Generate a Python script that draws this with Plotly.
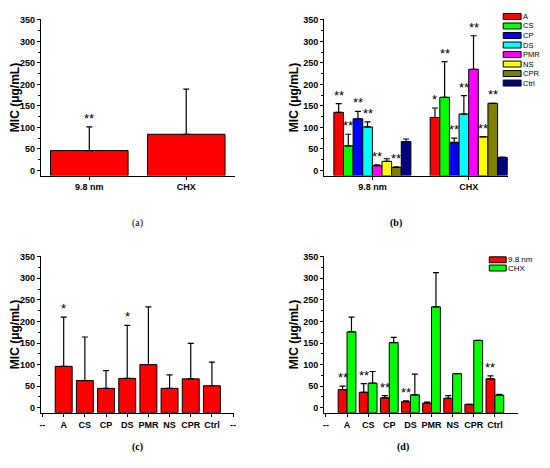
import plotly.graph_objects as go

# page has an 8px body margin all round and content past it gets cut,
# so the figure is drawn 8px in from the corner and kept inside the margin
PAGE_W, PAGE_H, OFF = 550, 468, 8
W, H = PAGE_W - 2 * OFF, PAGE_H - 2 * OFF

# (a) MIC per treatment, all strains pooled
groups = ["9.8 nm", "CHX"]
mic_a = [46, 84]
sd_a = [55, 105]
sig_a = ["**", ""]

# (b) MIC per strain inside each treatment group
strains = ["A", "CS", "CP", "DS", "PMR", "NS", "CPR", "Ctrl"]
mic_b_np = [135, 57, 120, 101, 11, 21, 7, 67]
sd_b_np = [20, 27, 17, 12, 2, 6, 1, 6]
mic_b_chx = [123, 170, 65, 131, 235, 78, 156, 30]
sd_b_chx = [22, 83, 10, 43, 78, 0, 0, 1]
sig_b_np = ["**", "**", "**", "**", "**", "", "**", ""]
sig_b_chx = ["*", "**", "**", "**", "**", "**", "**", ""]

# (c) MIC per strain, treatments pooled
mic_c = [96, 63, 45, 68, 100, 45, 67, 51]
sd_c = [114, 101, 41, 123, 134, 31, 82, 55]
sig_c = ["*", "", "", "*", "", "", "", ""]

# (d) MIC per strain, 9.8 nm vs CHX
mic_d_np = [42, 36, 23, 14, 11, 22, 8, 67]
sd_d_np = [8, 20, 5, 2, 2, 6, 0, 7]
mic_d_chx = [176, 57, 151, 30, 234, 79, 156, 29]
sd_d_chx = [34, 27, 12, 48, 79, 0, 0, 2]
sig_d_np = ["**", "**", "**", "**", "", "", "", "**"]

strain_colors = ["#FF0000", "#00FF00", "#0000FF", "#00FFFF",
                 "#FF00FF", "#FFFF00", "#808000", "#000080"]
pair_colors = ["#FF0000", "#00FF00"]

FONT = "Liberation Sans"
YMIN_TOP, YMIN_BOT = -12, -11.5


def px_x(p):
    return (p - OFF) / W


def px_y(p):
    return 1 - (p - OFF) / H


fig = go.Figure()
annotations = []
shapes = []


def add_bars(xs, vals, sds, color, width, offset, xa, ya, ymin, sig=None):
    fig.add_trace(go.Bar(
        x=xs, y=[v - ymin for v in vals], base=ymin,
        width=width, offset=offset,
        marker=dict(color=color, line=dict(color="black", width=1)),
        error_y=dict(type="data", symmetric=False, array=sds,
                     arrayminus=[0] * len(sds), color="black",
                     thickness=1.2, width=3),
        xaxis=xa, yaxis=ya, showlegend=False,
    ))
    if sig:
        for x, v, s, t in zip(xs, vals, sds, sig):
            if t:
                annotations.append(dict(
                    x=x + offset + width / 2, y=v + s, text=t,
                    xref=xa, yref=ya, showarrow=False, yanchor="bottom",
                    yshift=-1, font=dict(family=FONT, size=13, color="black")))


# panel a
add_bars([0, 1], mic_a, sd_a, "#FF0000", 0.8, -0.4, "x", "y", YMIN_TOP, sig_a)

# panel b
for i, s in enumerate(strains):
    add_bars([0, 1], [mic_b_np[i], mic_b_chx[i]], [sd_b_np[i], sd_b_chx[i]],
             strain_colors[i], 0.1, -0.4 + 0.1 * i, "x2", "y2", YMIN_TOP,
             [sig_b_np[i], sig_b_chx[i]])

# panel c
pos = list(range(1, len(strains) + 1))
add_bars(pos, mic_c, sd_c, "#FF0000", 0.8, -0.4, "x3", "y3", YMIN_BOT, sig_c)

# panel d
add_bars(pos, mic_d_np, sd_d_np, pair_colors[0], 0.42, -0.42, "x4", "y4",
         YMIN_BOT, sig_d_np)
add_bars(pos, mic_d_chx, sd_d_chx, pair_colors[1], 0.42, 0.0, "x4", "y4",
         YMIN_BOT)

tickfont = dict(family=FONT, size=9, color="black", weight="bold")


def xaxis(dom, rng, vals, text, anchor):
    return dict(domain=[px_x(dom[0]), px_x(dom[1])], range=rng, anchor=anchor,
                tickmode="array", tickvals=vals, ticktext=text,
                showline=True, linecolor="black", linewidth=1.2,
                ticks="outside", ticklen=3, tickcolor="black",
                showgrid=False, zeroline=False, tickfont=tickfont)


def yaxis(dom, rng, anchor):
    return dict(domain=[px_y(dom[1]), px_y(dom[0])], range=rng, anchor=anchor,
                tickmode="linear", tick0=0, dtick=50,
                showline=True, linecolor="black", linewidth=1.2,
                ticks="outside", ticklen=3, tickcolor="black",
                minor=dict(dtick=25, ticks="outside", ticklen=2,
                           tickcolor="black"),
                showgrid=False, zeroline=False, tickfont=tickfont,
                title=dict(text="MIC (μg/mL)", standoff=2,
                           font=dict(family=FONT, size=12, color="black",
                                     weight="bold")))


cd_text = ["--"] + strains + ["--"]
fig.update_layout(
    width=W, height=H, autosize=False,
    margin=dict(l=0, r=0, t=0, b=0),
    paper_bgcolor="white", plot_bgcolor="white",
    barmode="overlay",
    xaxis=xaxis((40, 235), [-0.5, 1.5], [0, 1], groups, "y"),
    yaxis=yaxis((15.5, 173), [YMIN_TOP, 351], "x"),
    xaxis2=xaxis((325, 510), [-0.5, 1.41], [0, 1], groups, "y2"),
    yaxis2=yaxis((15.5, 173), [YMIN_TOP, 351], "x2"),
    xaxis3=xaxis((40, 234), [-0.08, 9.03], list(range(len(cd_text))), cd_text, "y3"),
    yaxis3=yaxis((254.5, 412.3), [YMIN_BOT, 351], "x3"),
    xaxis4=xaxis((325, 520), [-0.08, 9.1], list(range(len(strains) + 1)),
                 cd_text[:-1], "y4"),
    yaxis4=yaxis((254.5, 412.3), [YMIN_BOT, 351], "x4"),
)


# hand-drawn legends (plotly's legend rows are too tall for this layout)
def draw_legend(names, colors, x0, x1, top, step, size):
    for i, (n, c) in enumerate(zip(names, colors)):
        y0 = top + i * step
        shapes.append(dict(type="rect", xref="paper", yref="paper",
                           x0=px_x(x0), x1=px_x(x1), y0=px_y(y0 + 6), y1=px_y(y0),
                           fillcolor=c, line=dict(color="black", width=1)))
        annotations.append(dict(x=px_x(x1 + 1), y=px_y(y0 + 3), xref="paper",
                                yref="paper", text=n, showarrow=False,
                                xanchor="left", yanchor="middle", borderpad=0,
                                font=dict(family=FONT, size=size, color="black")))


draw_legend(strains, strain_colors, 505, 523, 9.5, 9.6, 7.5)
draw_legend(groups, pair_colors, 491, 508, 255, 8.3, 8)

for lab, x, y, bold in [("(a)", 130, 221, False), ("(b)", 405, 221, True),
                        ("(c)", 130, 455, True), ("(d)", 412, 455, True)]:
    annotations.append(dict(x=px_x(x), y=px_y(y), xref="paper", yref="paper",
                            text=lab, showarrow=False,
                            font=dict(family="Liberation Serif", size=10,
                                      color="black",
                                      weight="bold" if bold else "normal")))

fig.update_layout(annotations=annotations, shapes=shapes)
fig.write_html("out.html")
